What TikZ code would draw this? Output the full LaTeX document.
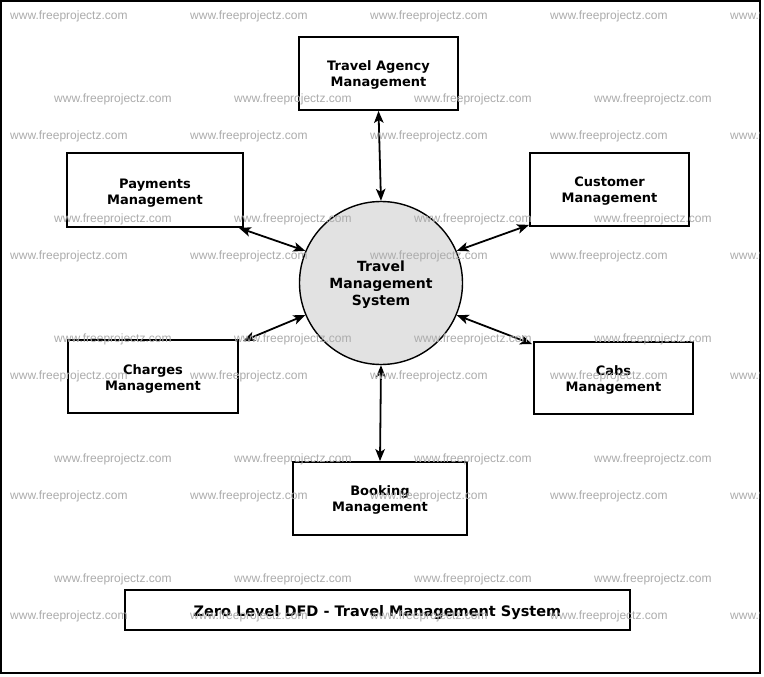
\documentclass[tikz,border=0pt]{standalone}
\usepackage{fontspec}
\setmainfont{DejaVu Sans}
\newfontfamily\wmfont{Liberation Sans}
\usetikzlibrary{arrows.meta}
\definecolor{wmgray}{RGB}{172,172,172}
\definecolor{procfill}{RGB}{226,226,226}
\tikzset{
  entbox/.style={draw=black, line width=1.8pt, fill=white, inner sep=0pt},
  enttext/.style={inner sep=0pt, align=center, font=\fontsize{13}{16}\selectfont\bfseries},
  proc/.style={circle, draw=black, line width=1.4pt, fill=procfill, inner sep=0pt,
    minimum size=163pt},
  proctext/.style={inner sep=0pt, align=center, font=\fontsize{14}{17}\selectfont\bfseries},
  flowtip/.tip={Stealth[length=12pt,width=9.5pt,inset=3pt]},
  flow/.style={line width=1.8pt, flowtip-flowtip},
  wm/.style={anchor=west, inner sep=0pt, text=wmgray, font=\wmfont\fontsize{12}{12}\selectfont}
}
\begin{document}
\begin{tikzpicture}[x=1pt,y=-1pt]
\useasboundingbox (0,0) rectangle (764,677);
\fill[white] (0,0) rectangle (764,677);
\draw[line width=2pt] (1,1) rectangle (760,673);

\node[proc] (tms) at (381,283) {};
\node[proctext] (tmst) at ([yshift=-2pt]tms.center) {Travel\\Management\\System};

\node[entbox, minimum width=159pt, minimum height=73pt] (ta) at (378.5,73.5) {};
\node[enttext] (tat) at ([yshift=-1pt]ta.center) {Travel Agency\\Management};

\node[entbox, minimum width=176pt, minimum height=74pt] (pay) at (155,190) {};
\node[enttext] (payt) at ([yshift=-3pt]pay.center) {Payments\\Management};

\node[entbox, minimum width=159pt, minimum height=73pt] (cus) at (609.5,189.5) {};
\node[enttext] (cust) at ([yshift=-2pt]cus.center) {Customer\\Management};

\node[entbox, minimum width=170pt, minimum height=73pt] (chg) at (153,376.5) {};
\node[enttext] (chgt) at ([yshift=-2pt]chg.center) {Charges\\Management};

\node[entbox, minimum width=159pt, minimum height=72pt] (cab) at (613.5,378) {};
\node[enttext] (cabt) at ([yshift=-2pt]cab.center) {Cabs\\Management};

\node[entbox, minimum width=174pt, minimum height=73pt] (bok) at (380,498.5) {};
\node[enttext] (bokt) at ([yshift=-1pt]bok.center) {Booking\\Management};

\node[entbox, minimum width=505pt, minimum height=40pt] (title) at (377.5,610) {};
\node[enttext, font=\fontsize{14.5}{17}\selectfont\bfseries] (titlet) at ([yshift=-2.5pt]title.center) {Zero Level DFD - Travel Management System};

\draw[flow] (ta.south) -- (tms.north);
\draw[flow] ([xshift=-5pt]pay.south east) -- (tms.157);
\draw[flow] ([yshift=2pt]cus.south west) -- (tms.23);
\draw[flow] ([xshift=4pt,yshift=-2pt]chg.north east) -- (tms.203);
\draw[flow] ([xshift=-1pt,yshift=-3pt]cab.north west) -- (tms.-23);
\draw[flow] (bok.north) -- (tms.south);

\begin{scope}
\clip (2,2) rectangle (759,672);
\foreach \yy in {16,136,256,376,496,616}{
  \foreach \xx in {10,190,370,550,730}{
    \node[wm] (wa\xx-\yy) at (\xx,\yy) {www.freeprojectz.com};
  }
}
\foreach \yy in {99,219,339,459,579}{
  \foreach \xx in {54,234,414,594}{
    \node[wm] (wb\xx-\yy) at (\xx,\yy) {www.freeprojectz.com};
  }
}
\end{scope}
\end{tikzpicture}
\end{document}
